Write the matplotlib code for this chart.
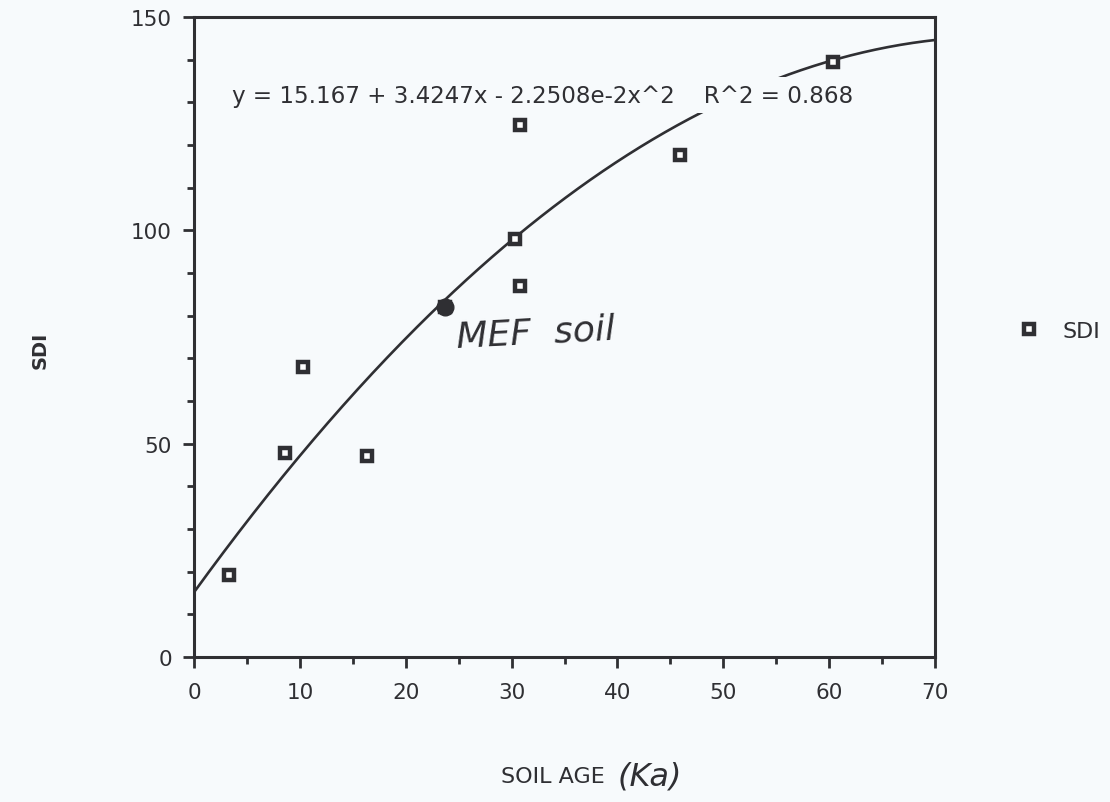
import numpy as np
import matplotlib
matplotlib.use("Agg")
import matplotlib.pyplot as plt
from matplotlib.ticker import MultipleLocator

# Soil age (ka) and soil development index for each profile
soil_age = [3.3, 8.6, 10.3, 16.3, 23.7, 30.3, 30.8, 30.8, 45.9, 60.4]
sdi = [19.2, 47.8, 68.0, 47.1, 82.0, 98.0, 86.9, 124.7, 117.6, 139.4]
mef_index = 4  # the MEF soil profile

# Quadratic fit coefficients
b0, b1, b2 = 15.167, 3.4247, -2.2508e-2
r_squared = 0.868

x_ticks = [0, 10, 20, 30, 40, 50, 60, 70]
y_ticks = [0, 50, 100, 150]

ink = "#2f2f33"
paper = "#f7fafc"

plt.rcParams["font.family"] = ["DejaVu Sans"]

fig = plt.figure(figsize=(11.10, 8.03), dpi=100, facecolor=paper)
ax = fig.add_axes([194 / 1110, 1 - 658 / 803, (935 - 194) / 1110, (658 - 18) / 803])
ax.set_facecolor(paper)

# fitted curve
xf = np.linspace(0, 70, 300)
yf = b0 + b1 * xf + b2 * xf ** 2
ax.plot(xf, yf, color=ink, lw=1.9, zorder=2)

# observations
ax.plot(soil_age, sdi, ls="none", marker="s", ms=6.5, mfc="white", mec=ink,
        mew=3.2, zorder=4, label="SDI", clip_on=False)
ax.plot([soil_age[mef_index]], [sdi[mef_index]], ls="none", marker="o", ms=12,
        mfc=ink, mec=ink, zorder=5)
ax.text(soil_age[mef_index] + 1.0, sdi[mef_index] - 6.0, "MEF  soil",
        fontsize=26, style="italic", color=ink, ha="left", va="center",
        rotation=3, zorder=6)

# equation of the fit
eq = (f"y = {b0:.3f} + {b1:.4f}x - 2.2508e-2x^2    R^2 = {r_squared:.3f}")
ax.text(3.6, 131.7, eq, fontsize=16.6, color=ink, ha="left", va="center",
        zorder=3, bbox=dict(facecolor=paper, edgecolor="none", pad=5))

ax.set_xlim(0, 70)
ax.set_ylim(0, 150)
ax.set_xticks(x_ticks)
ax.set_yticks(y_ticks)
ax.xaxis.set_minor_locator(MultipleLocator(5))
ax.yaxis.set_minor_locator(MultipleLocator(10))
ax.tick_params(axis="both", which="major", direction="out", length=8, width=2,
               color=ink, labelcolor=ink, labelsize=15.5)
ax.tick_params(axis="both", which="minor", direction="out", length=5, width=2,
               color=ink)
ax.tick_params(axis="x", which="major", pad=10)
ax.tick_params(axis="y", which="major", pad=8)
for s in ax.spines.values():
    s.set_linewidth(2.2)
    s.set_color(ink)

# axis titles
fig.text(40 / 1110, 1 - 350 / 803, "SDI", rotation=90, fontsize=14,
         fontweight="bold", color=ink, ha="center", va="center")
fig.text(553 / 1110, 1 - 777 / 803, "SOIL AGE", fontsize=16, color=ink,
         ha="center", va="center")
fig.text(618 / 1110, 1 - 777 / 803, "(Ka)", fontsize=23, style="italic",
         color=ink, ha="left", va="center")

# legend to the right of the plot
ax.legend(loc="center left", bbox_to_anchor=(1.085, 0.51), frameon=False,
          fontsize=16, handlelength=1.0, handletextpad=1.0, markerscale=1.0,
          labelcolor=ink)

fig.savefig("out.png", dpi=100, facecolor=paper)
